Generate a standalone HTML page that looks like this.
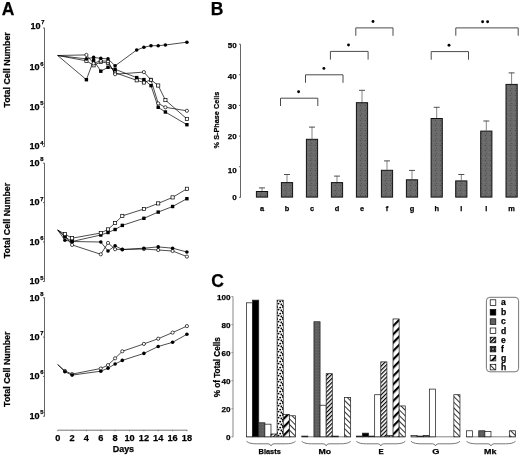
<!DOCTYPE html>
<html><head><meta charset="utf-8"><style>
html,body{margin:0;padding:0;background:#fff;}
svg{display:block;will-change:transform;}
text{font-family:"Liberation Sans", sans-serif;fill:#000;stroke:#000;stroke-width:0.25px;}
</style></head><body>
<svg width="520" height="455" viewBox="0 0 520 455">
<defs>
<pattern id="stip" width="5" height="5" patternUnits="userSpaceOnUse">
 <rect width="5" height="5" fill="#6a6a6a"/>
 <rect x="0" y="0" width="1" height="1" fill="#4e4e4e"/><rect x="3" y="2" width="1" height="1" fill="#777"/><rect x="1" y="3" width="1" height="1" fill="#555"/>
</pattern>
<pattern id="dgray" width="3" height="3" patternUnits="userSpaceOnUse">
 <rect width="3" height="3" fill="#5e5e5e"/><rect x="1" y="1" width="1" height="1" fill="#707070"/>
</pattern>
<pattern id="dots" width="6" height="6" patternUnits="userSpaceOnUse">
 <rect width="6" height="6" fill="#fff"/>
 <ellipse cx="1" cy="1" rx="1.1" ry="0.9" fill="#000"/><ellipse cx="4.2" cy="1.6" rx="1.0" ry="0.9" fill="#000"/>
 <ellipse cx="2.4" cy="3.6" rx="1.1" ry="0.9" fill="#000"/><ellipse cx="5.4" cy="4.4" rx="1.0" ry="1.0" fill="#000"/>
 <ellipse cx="0.6" cy="5.6" rx="0.8" ry="0.7" fill="#000"/>
</pattern>
<pattern id="hatchG" width="5.9" height="5.9" patternUnits="userSpaceOnUse" patternTransform="rotate(45)">
 <rect width="5.9" height="5.9" fill="#fff"/><rect x="0" y="0" width="2.2" height="5.9" fill="#000"/>
</pattern>
<pattern id="hatchE" width="2.9" height="2.9" patternUnits="userSpaceOnUse" patternTransform="rotate(45)">
 <rect width="2.9" height="2.9" fill="#fff"/><rect x="0" y="0" width="1.2" height="2.9" fill="#000"/>
</pattern>
<pattern id="hatchH" width="4" height="4" patternUnits="userSpaceOnUse" patternTransform="rotate(-45)">
 <rect width="4" height="4" fill="#fff"/><rect x="0" y="0" width="0.8" height="4" fill="#000"/>
</pattern>
<pattern id="dotsL" width="3" height="3" patternUnits="userSpaceOnUse">
 <rect width="3" height="3" fill="#222"/><circle cx="1" cy="1" r="0.7" fill="#fff"/>
</pattern>
<pattern id="hatchEL" width="2.8" height="2.8" patternUnits="userSpaceOnUse" patternTransform="rotate(45)">
 <rect width="2.8" height="2.8" fill="#fff"/><rect x="0" y="0" width="1.6" height="2.8" fill="#000"/>
</pattern>
</defs>
<text x="1.8" y="14.7" font-size="17.5" font-weight="bold">A</text><line x1="44.5" y1="27.9" x2="44.5" y2="146.8" stroke="#555" stroke-width="0.9"/><line x1="43" y1="28" x2="44.5" y2="28" stroke="#555" stroke-width="0.9"/><text x="40.7" y="29.2" text-anchor="end" font-size="9.1" font-weight="bold">10</text><text x="41.3" y="24.4" font-size="5.8" font-weight="bold">7</text><line x1="43" y1="67.5" x2="44.5" y2="67.5" stroke="#555" stroke-width="0.9"/><text x="39.6" y="70.3" text-anchor="end" font-size="9.1" font-weight="bold">10</text><text x="40.2" y="65.5" font-size="5.8" font-weight="bold">6</text><line x1="43" y1="107.2" x2="44.5" y2="107.2" stroke="#555" stroke-width="0.9"/><text x="39.6" y="110.0" text-anchor="end" font-size="9.1" font-weight="bold">10</text><text x="40.2" y="105.2" font-size="5.8" font-weight="bold">5</text><line x1="43" y1="146.6" x2="44.5" y2="146.6" stroke="#555" stroke-width="0.9"/><text x="39.6" y="149.4" text-anchor="end" font-size="9.1" font-weight="bold">10</text><text x="40.2" y="144.6" font-size="5.8" font-weight="bold">4</text><line x1="44.5" y1="163.2" x2="44.5" y2="281.6" stroke="#555" stroke-width="0.9"/><line x1="43" y1="163.2" x2="44.5" y2="163.2" stroke="#555" stroke-width="0.9"/><text x="39.6" y="166.0" text-anchor="end" font-size="9.1" font-weight="bold">10</text><text x="40.2" y="161.2" font-size="5.8" font-weight="bold">8</text><line x1="43" y1="202.6" x2="44.5" y2="202.6" stroke="#555" stroke-width="0.9"/><text x="39.6" y="205.4" text-anchor="end" font-size="9.1" font-weight="bold">10</text><text x="40.2" y="200.6" font-size="5.8" font-weight="bold">7</text><line x1="43" y1="242" x2="44.5" y2="242" stroke="#555" stroke-width="0.9"/><text x="39.6" y="244.8" text-anchor="end" font-size="9.1" font-weight="bold">10</text><text x="40.2" y="240.0" font-size="5.8" font-weight="bold">6</text><line x1="43" y1="281.5" x2="44.5" y2="281.5" stroke="#555" stroke-width="0.9"/><text x="39.6" y="284.3" text-anchor="end" font-size="9.1" font-weight="bold">10</text><text x="40.2" y="279.5" font-size="5.8" font-weight="bold">5</text><line x1="44.5" y1="297.6" x2="44.5" y2="416.6" stroke="#555" stroke-width="0.9"/><line x1="43" y1="297.8" x2="44.5" y2="297.8" stroke="#555" stroke-width="0.9"/><text x="39.6" y="300.6" text-anchor="end" font-size="9.1" font-weight="bold">10</text><text x="40.2" y="295.8" font-size="5.8" font-weight="bold">8</text><line x1="43" y1="337.1" x2="44.5" y2="337.1" stroke="#555" stroke-width="0.9"/><text x="39.6" y="339.9" text-anchor="end" font-size="9.1" font-weight="bold">10</text><text x="40.2" y="335.1" font-size="5.8" font-weight="bold">7</text><line x1="43" y1="376.4" x2="44.5" y2="376.4" stroke="#555" stroke-width="0.9"/><text x="39.6" y="379.2" text-anchor="end" font-size="9.1" font-weight="bold">10</text><text x="40.2" y="374.4" font-size="5.8" font-weight="bold">6</text><line x1="43" y1="416.2" x2="44.5" y2="416.2" stroke="#555" stroke-width="0.9"/><text x="39.6" y="419.0" text-anchor="end" font-size="9.1" font-weight="bold">10</text><text x="40.2" y="414.2" font-size="5.8" font-weight="bold">5</text><text transform="translate(9.6,69.9) rotate(-90)" text-anchor="middle" font-size="8.9" font-weight="bold" textLength="75.4" lengthAdjust="spacingAndGlyphs">Total Cell Number</text><text transform="translate(10.2,220.5) rotate(-90)" text-anchor="middle" font-size="8.9" font-weight="bold" textLength="75.4" lengthAdjust="spacingAndGlyphs">Total Cell Number</text><text transform="translate(10.2,369.2) rotate(-90)" text-anchor="middle" font-size="8.9" font-weight="bold" textLength="75.4" lengthAdjust="spacingAndGlyphs">Total Cell Number</text><line x1="57.7" y1="430.2" x2="187.3" y2="430.2" stroke="#666" stroke-width="0.9"/><line x1="57.7" y1="430.2" x2="57.7" y2="431.2" stroke="#666" stroke-width="0.8"/><text x="57.7" y="440.9" text-anchor="middle" font-size="9.2" font-weight="bold">0</text><line x1="72.1" y1="430.2" x2="72.1" y2="431.2" stroke="#666" stroke-width="0.8"/><text x="72.1" y="440.9" text-anchor="middle" font-size="9.2" font-weight="bold">2</text><line x1="86.4" y1="430.2" x2="86.4" y2="431.2" stroke="#666" stroke-width="0.8"/><text x="86.4" y="440.9" text-anchor="middle" font-size="9.2" font-weight="bold">4</text><line x1="100.8" y1="430.2" x2="100.8" y2="431.2" stroke="#666" stroke-width="0.8"/><text x="100.8" y="440.9" text-anchor="middle" font-size="9.2" font-weight="bold">6</text><line x1="115.1" y1="430.2" x2="115.1" y2="431.2" stroke="#666" stroke-width="0.8"/><text x="115.1" y="440.9" text-anchor="middle" font-size="9.2" font-weight="bold">8</text><line x1="129.5" y1="430.2" x2="129.5" y2="431.2" stroke="#666" stroke-width="0.8"/><text x="129.5" y="440.9" text-anchor="middle" font-size="9.2" font-weight="bold">10</text><line x1="143.9" y1="430.2" x2="143.9" y2="431.2" stroke="#666" stroke-width="0.8"/><text x="143.9" y="440.9" text-anchor="middle" font-size="9.2" font-weight="bold">12</text><line x1="158.2" y1="430.2" x2="158.2" y2="431.2" stroke="#666" stroke-width="0.8"/><text x="158.2" y="440.9" text-anchor="middle" font-size="9.2" font-weight="bold">14</text><line x1="172.6" y1="430.2" x2="172.6" y2="431.2" stroke="#666" stroke-width="0.8"/><text x="172.6" y="440.9" text-anchor="middle" font-size="9.2" font-weight="bold">16</text><line x1="186.9" y1="430.2" x2="186.9" y2="431.2" stroke="#666" stroke-width="0.8"/><text x="186.9" y="440.9" text-anchor="middle" font-size="9.2" font-weight="bold">18</text><text x="123.4" y="451.8" text-anchor="middle" font-size="9" font-weight="bold" textLength="21.4" lengthAdjust="spacingAndGlyphs">Days</text><polyline points="57.7,55.5 86.4,60.8 93.6,65.3 100.8,62.0 108.0,63.0 115.1,72.7 136.7,80.3 143.9,82.5 151.0,79.8 158.2,85.5 165.4,100.1 186.9,118.9" fill="none" stroke="#000" stroke-width="0.7"/><rect x="84.8" y="59.2" width="3.2" height="3.2" fill="#fff" stroke="#000" stroke-width="0.7"/><rect x="92.0" y="63.7" width="3.2" height="3.2" fill="#fff" stroke="#000" stroke-width="0.7"/><rect x="99.2" y="60.4" width="3.2" height="3.2" fill="#fff" stroke="#000" stroke-width="0.7"/><rect x="106.4" y="61.4" width="3.2" height="3.2" fill="#fff" stroke="#000" stroke-width="0.7"/><rect x="113.5" y="71.1" width="3.2" height="3.2" fill="#fff" stroke="#000" stroke-width="0.7"/><rect x="135.1" y="78.7" width="3.2" height="3.2" fill="#fff" stroke="#000" stroke-width="0.7"/><rect x="142.3" y="80.9" width="3.2" height="3.2" fill="#fff" stroke="#000" stroke-width="0.7"/><rect x="149.4" y="78.2" width="3.2" height="3.2" fill="#fff" stroke="#000" stroke-width="0.7"/><rect x="156.6" y="83.9" width="3.2" height="3.2" fill="#fff" stroke="#000" stroke-width="0.7"/><rect x="163.8" y="98.5" width="3.2" height="3.2" fill="#fff" stroke="#000" stroke-width="0.7"/><rect x="185.3" y="117.3" width="3.2" height="3.2" fill="#fff" stroke="#000" stroke-width="0.7"/><polyline points="57.7,55.5 86.4,79.7 93.6,60.3 100.8,71.2 108.0,67.3 115.1,69.3 136.7,77.6 143.9,79.6 151.0,85.6 158.2,107.3 165.4,112.0 186.9,124.7" fill="none" stroke="#000" stroke-width="0.7"/><rect x="84.7" y="78.0" width="3.4" height="3.4" fill="#000"/><rect x="91.9" y="58.6" width="3.4" height="3.4" fill="#000"/><rect x="99.1" y="69.5" width="3.4" height="3.4" fill="#000"/><rect x="106.3" y="65.6" width="3.4" height="3.4" fill="#000"/><rect x="113.4" y="67.6" width="3.4" height="3.4" fill="#000"/><rect x="135.0" y="75.9" width="3.4" height="3.4" fill="#000"/><rect x="142.2" y="77.9" width="3.4" height="3.4" fill="#000"/><rect x="149.3" y="83.9" width="3.4" height="3.4" fill="#000"/><rect x="156.5" y="105.6" width="3.4" height="3.4" fill="#000"/><rect x="163.7" y="110.3" width="3.4" height="3.4" fill="#000"/><rect x="185.2" y="123.0" width="3.4" height="3.4" fill="#000"/><polyline points="57.7,55.5 86.4,54.9 93.6,63.3 100.8,60.8 108.0,61.3 115.1,74.2 143.9,72.1 151.0,80.0 158.2,103.4 165.4,107.3 186.9,110.8" fill="none" stroke="#000" stroke-width="0.7"/><circle cx="86.4" cy="54.9" r="1.6" fill="#fff" stroke="#000" stroke-width="0.7"/><circle cx="93.6" cy="63.3" r="1.6" fill="#fff" stroke="#000" stroke-width="0.7"/><circle cx="100.8" cy="60.8" r="1.6" fill="#fff" stroke="#000" stroke-width="0.7"/><circle cx="108.0" cy="61.3" r="1.6" fill="#fff" stroke="#000" stroke-width="0.7"/><circle cx="115.1" cy="74.2" r="1.6" fill="#fff" stroke="#000" stroke-width="0.7"/><circle cx="143.9" cy="72.1" r="1.6" fill="#fff" stroke="#000" stroke-width="0.7"/><circle cx="151.0" cy="80.0" r="1.6" fill="#fff" stroke="#000" stroke-width="0.7"/><circle cx="158.2" cy="103.4" r="1.6" fill="#fff" stroke="#000" stroke-width="0.7"/><circle cx="165.4" cy="107.3" r="1.6" fill="#fff" stroke="#000" stroke-width="0.7"/><circle cx="186.9" cy="110.8" r="1.6" fill="#fff" stroke="#000" stroke-width="0.7"/><polyline points="57.7,55.5 86.4,58.9 93.6,57.4 100.8,58.4 108.0,58.9 115.1,65.8 136.7,50.0 143.9,47.3 151.0,45.7 158.2,45.7 165.4,45.0 186.9,42.2" fill="none" stroke="#000" stroke-width="0.7"/><circle cx="86.4" cy="58.9" r="1.8" fill="#000"/><circle cx="93.6" cy="57.4" r="1.8" fill="#000"/><circle cx="100.8" cy="58.4" r="1.8" fill="#000"/><circle cx="108.0" cy="58.9" r="1.8" fill="#000"/><circle cx="115.1" cy="65.8" r="1.8" fill="#000"/><circle cx="136.7" cy="50.0" r="1.8" fill="#000"/><circle cx="143.9" cy="47.3" r="1.8" fill="#000"/><circle cx="151.0" cy="45.7" r="1.8" fill="#000"/><circle cx="158.2" cy="45.7" r="1.8" fill="#000"/><circle cx="165.4" cy="45.0" r="1.8" fill="#000"/><circle cx="186.9" cy="42.2" r="1.8" fill="#000"/><polyline points="57.7,230.0 64.9,236.0 72.1,244.9 100.8,254.3 108.0,242.9 115.1,249.2 122.3,249.5 143.9,249.0 158.2,250.0 172.6,251.0 186.9,256.6" fill="none" stroke="#000" stroke-width="0.7"/><circle cx="64.9" cy="236.0" r="1.6" fill="#fff" stroke="#000" stroke-width="0.7"/><circle cx="72.1" cy="244.9" r="1.6" fill="#fff" stroke="#000" stroke-width="0.7"/><circle cx="100.8" cy="254.3" r="1.6" fill="#fff" stroke="#000" stroke-width="0.7"/><circle cx="108.0" cy="242.9" r="1.6" fill="#fff" stroke="#000" stroke-width="0.7"/><circle cx="115.1" cy="249.2" r="1.6" fill="#fff" stroke="#000" stroke-width="0.7"/><circle cx="122.3" cy="249.5" r="1.6" fill="#fff" stroke="#000" stroke-width="0.7"/><circle cx="143.9" cy="249.0" r="1.6" fill="#fff" stroke="#000" stroke-width="0.7"/><circle cx="158.2" cy="250.0" r="1.6" fill="#fff" stroke="#000" stroke-width="0.7"/><circle cx="172.6" cy="251.0" r="1.6" fill="#fff" stroke="#000" stroke-width="0.7"/><circle cx="186.9" cy="256.6" r="1.6" fill="#fff" stroke="#000" stroke-width="0.7"/><polyline points="57.7,230.0 64.9,240.2 72.1,241.5 100.8,242.0 108.0,251.0 115.1,245.8 122.3,249.5 143.9,248.2 158.2,246.9 172.6,248.2 186.9,252.0" fill="none" stroke="#000" stroke-width="0.7"/><circle cx="64.9" cy="240.2" r="1.8" fill="#000"/><circle cx="72.1" cy="241.5" r="1.8" fill="#000"/><circle cx="100.8" cy="242.0" r="1.8" fill="#000"/><circle cx="108.0" cy="251.0" r="1.8" fill="#000"/><circle cx="115.1" cy="245.8" r="1.8" fill="#000"/><circle cx="122.3" cy="249.5" r="1.8" fill="#000"/><circle cx="143.9" cy="248.2" r="1.8" fill="#000"/><circle cx="158.2" cy="246.9" r="1.8" fill="#000"/><circle cx="172.6" cy="248.2" r="1.8" fill="#000"/><circle cx="186.9" cy="252.0" r="1.8" fill="#000"/><polyline points="57.7,230.0 64.9,236.8 72.1,241.5 100.8,235.0 108.0,232.5 115.1,229.5 122.3,225.4 143.9,218.3 158.2,212.1 172.6,206.5 186.9,198.7" fill="none" stroke="#000" stroke-width="0.7"/><rect x="63.2" y="235.1" width="3.4" height="3.4" fill="#000"/><rect x="70.4" y="239.8" width="3.4" height="3.4" fill="#000"/><rect x="99.1" y="233.3" width="3.4" height="3.4" fill="#000"/><rect x="106.3" y="230.8" width="3.4" height="3.4" fill="#000"/><rect x="113.4" y="227.8" width="3.4" height="3.4" fill="#000"/><rect x="120.6" y="223.7" width="3.4" height="3.4" fill="#000"/><rect x="142.2" y="216.6" width="3.4" height="3.4" fill="#000"/><rect x="156.5" y="210.4" width="3.4" height="3.4" fill="#000"/><rect x="170.9" y="204.8" width="3.4" height="3.4" fill="#000"/><rect x="185.2" y="197.0" width="3.4" height="3.4" fill="#000"/><polyline points="57.7,230.0 64.9,234.1 72.1,238.2 100.8,233.0 108.0,229.4 115.1,223.0 122.3,215.9 143.9,209.0 158.2,203.4 172.6,197.4 186.9,188.8" fill="none" stroke="#000" stroke-width="0.7"/><rect x="63.3" y="232.5" width="3.2" height="3.2" fill="#fff" stroke="#000" stroke-width="0.7"/><rect x="70.5" y="236.6" width="3.2" height="3.2" fill="#fff" stroke="#000" stroke-width="0.7"/><rect x="99.2" y="231.4" width="3.2" height="3.2" fill="#fff" stroke="#000" stroke-width="0.7"/><rect x="106.4" y="227.8" width="3.2" height="3.2" fill="#fff" stroke="#000" stroke-width="0.7"/><rect x="113.5" y="221.4" width="3.2" height="3.2" fill="#fff" stroke="#000" stroke-width="0.7"/><rect x="120.7" y="214.3" width="3.2" height="3.2" fill="#fff" stroke="#000" stroke-width="0.7"/><rect x="142.3" y="207.4" width="3.2" height="3.2" fill="#fff" stroke="#000" stroke-width="0.7"/><rect x="156.6" y="201.8" width="3.2" height="3.2" fill="#fff" stroke="#000" stroke-width="0.7"/><rect x="171.0" y="195.8" width="3.2" height="3.2" fill="#fff" stroke="#000" stroke-width="0.7"/><rect x="185.3" y="187.2" width="3.2" height="3.2" fill="#fff" stroke="#000" stroke-width="0.7"/><polyline points="57.7,364.5 64.9,370.9 72.1,374.1 100.8,368.5 108.0,365.1 115.1,358.3 122.3,351.3 143.9,343.9 158.2,338.7 172.6,332.6 186.9,326.1" fill="none" stroke="#000" stroke-width="0.7"/><circle cx="64.9" cy="370.9" r="1.6" fill="#fff" stroke="#000" stroke-width="0.7"/><circle cx="72.1" cy="374.1" r="1.6" fill="#fff" stroke="#000" stroke-width="0.7"/><circle cx="100.8" cy="368.5" r="1.6" fill="#fff" stroke="#000" stroke-width="0.7"/><circle cx="108.0" cy="365.1" r="1.6" fill="#fff" stroke="#000" stroke-width="0.7"/><circle cx="115.1" cy="358.3" r="1.6" fill="#fff" stroke="#000" stroke-width="0.7"/><circle cx="122.3" cy="351.3" r="1.6" fill="#fff" stroke="#000" stroke-width="0.7"/><circle cx="143.9" cy="343.9" r="1.6" fill="#fff" stroke="#000" stroke-width="0.7"/><circle cx="158.2" cy="338.7" r="1.6" fill="#fff" stroke="#000" stroke-width="0.7"/><circle cx="172.6" cy="332.6" r="1.6" fill="#fff" stroke="#000" stroke-width="0.7"/><circle cx="186.9" cy="326.1" r="1.6" fill="#fff" stroke="#000" stroke-width="0.7"/><polyline points="57.7,364.5 64.9,371.8 72.1,375.1 100.8,371.2 108.0,368.2 115.1,364.0 122.3,360.4 143.9,353.4 158.2,346.5 172.6,342.3 186.9,334.3" fill="none" stroke="#000" stroke-width="0.7"/><circle cx="64.9" cy="371.8" r="1.8" fill="#000"/><circle cx="72.1" cy="375.1" r="1.8" fill="#000"/><circle cx="100.8" cy="371.2" r="1.8" fill="#000"/><circle cx="108.0" cy="368.2" r="1.8" fill="#000"/><circle cx="115.1" cy="364.0" r="1.8" fill="#000"/><circle cx="122.3" cy="360.4" r="1.8" fill="#000"/><circle cx="143.9" cy="353.4" r="1.8" fill="#000"/><circle cx="158.2" cy="346.5" r="1.8" fill="#000"/><circle cx="172.6" cy="342.3" r="1.8" fill="#000"/><circle cx="186.9" cy="334.3" r="1.8" fill="#000"/>
<text x="210.7" y="14.7" font-size="17.5" font-weight="bold">B</text><line x1="240.5" y1="44.2" x2="240.5" y2="197.6" stroke="#555" stroke-width="0.9"/><line x1="239" y1="197.3" x2="240.5" y2="197.3" stroke="#555" stroke-width="0.9"/><text x="236.7" y="200.2" text-anchor="end" font-size="8" font-weight="bold">0</text><line x1="239" y1="166.7" x2="240.5" y2="166.7" stroke="#555" stroke-width="0.9"/><text x="236.7" y="172.5" text-anchor="end" font-size="8" font-weight="bold">10</text><line x1="239" y1="136.1" x2="240.5" y2="136.1" stroke="#555" stroke-width="0.9"/><text x="236.7" y="139.3" text-anchor="end" font-size="8" font-weight="bold">20</text><line x1="239" y1="105.4" x2="240.5" y2="105.4" stroke="#555" stroke-width="0.9"/><text x="236.7" y="109.3" text-anchor="end" font-size="8" font-weight="bold">30</text><line x1="239" y1="74.8" x2="240.5" y2="74.8" stroke="#555" stroke-width="0.9"/><text x="236.7" y="78.5" text-anchor="end" font-size="8" font-weight="bold">40</text><line x1="239" y1="44.2" x2="240.5" y2="44.2" stroke="#555" stroke-width="0.9"/><text x="236.7" y="47.5" text-anchor="end" font-size="8" font-weight="bold">50</text><text transform="translate(219.3,120) rotate(-90)" text-anchor="middle" font-size="8.1" font-weight="bold" textLength="56.8" lengthAdjust="spacingAndGlyphs">% S-Phase Cells</text><line x1="262" y1="187.6" x2="262" y2="191" stroke="#858585" stroke-width="1"/><line x1="259" y1="187.9" x2="265" y2="187.9" stroke="#505050" stroke-width="1"/><rect x="256.4" y="191.5" width="11.2" height="5.6" fill="url(#stip)" stroke="#111" stroke-width="1"/><text x="262" y="210.6" text-anchor="middle" font-size="7.4" font-weight="bold">a</text><line x1="287" y1="174.2" x2="287" y2="182.1" stroke="#858585" stroke-width="1"/><line x1="284" y1="174.5" x2="290" y2="174.5" stroke="#505050" stroke-width="1"/><rect x="281.4" y="182.6" width="11.2" height="14.5" fill="url(#stip)" stroke="#111" stroke-width="1"/><text x="287" y="210.6" text-anchor="middle" font-size="7.4" font-weight="bold">b</text><line x1="312" y1="126.8" x2="312" y2="138.8" stroke="#858585" stroke-width="1"/><line x1="309" y1="127.1" x2="315" y2="127.1" stroke="#505050" stroke-width="1"/><rect x="306.4" y="139.3" width="11.2" height="57.8" fill="url(#stip)" stroke="#111" stroke-width="1"/><text x="312" y="210.6" text-anchor="middle" font-size="7.4" font-weight="bold">c</text><line x1="337" y1="175.8" x2="337" y2="182.1" stroke="#858585" stroke-width="1"/><line x1="334" y1="176.10000000000002" x2="340" y2="176.10000000000002" stroke="#505050" stroke-width="1"/><rect x="331.4" y="182.6" width="11.2" height="14.5" fill="url(#stip)" stroke="#111" stroke-width="1"/><text x="337" y="210.6" text-anchor="middle" font-size="7.4" font-weight="bold">d</text><line x1="362" y1="90" x2="362" y2="102.2" stroke="#858585" stroke-width="1"/><line x1="359" y1="90.3" x2="365" y2="90.3" stroke="#505050" stroke-width="1"/><rect x="356.4" y="102.7" width="11.2" height="94.4" fill="url(#stip)" stroke="#111" stroke-width="1"/><text x="362" y="210.6" text-anchor="middle" font-size="7.4" font-weight="bold">e</text><line x1="387" y1="160.6" x2="387" y2="169.8" stroke="#858585" stroke-width="1"/><line x1="384" y1="160.9" x2="390" y2="160.9" stroke="#505050" stroke-width="1"/><rect x="381.4" y="170.3" width="11.2" height="26.8" fill="url(#stip)" stroke="#111" stroke-width="1"/><text x="387" y="210.6" text-anchor="middle" font-size="7.4" font-weight="bold">f</text><line x1="412" y1="170.1" x2="412" y2="179.3" stroke="#858585" stroke-width="1"/><line x1="409" y1="170.4" x2="415" y2="170.4" stroke="#505050" stroke-width="1"/><rect x="406.4" y="179.8" width="11.2" height="17.3" fill="url(#stip)" stroke="#111" stroke-width="1"/><text x="412" y="210.6" text-anchor="middle" font-size="7.4" font-weight="bold">g</text><line x1="436.7" y1="107" x2="436.7" y2="118" stroke="#858585" stroke-width="1"/><line x1="433.7" y1="107.3" x2="439.7" y2="107.3" stroke="#505050" stroke-width="1"/><rect x="431.1" y="118.5" width="11.2" height="78.6" fill="url(#stip)" stroke="#111" stroke-width="1"/><text x="436.7" y="210.6" text-anchor="middle" font-size="7.4" font-weight="bold">h</text><line x1="461.3" y1="174.2" x2="461.3" y2="180.4" stroke="#858585" stroke-width="1"/><line x1="458.3" y1="174.5" x2="464.3" y2="174.5" stroke="#505050" stroke-width="1"/><rect x="455.7" y="180.9" width="11.2" height="16.2" fill="url(#stip)" stroke="#111" stroke-width="1"/><text x="461.3" y="210.6" text-anchor="middle" font-size="7.4" font-weight="bold">i</text><line x1="486.3" y1="120.7" x2="486.3" y2="130.6" stroke="#858585" stroke-width="1"/><line x1="483.3" y1="121.0" x2="489.3" y2="121.0" stroke="#505050" stroke-width="1"/><rect x="480.7" y="131.1" width="11.2" height="66.0" fill="url(#stip)" stroke="#111" stroke-width="1"/><text x="486.3" y="210.6" text-anchor="middle" font-size="7.4" font-weight="bold">l</text><line x1="511.6" y1="72.6" x2="511.6" y2="83.9" stroke="#858585" stroke-width="1"/><line x1="508.6" y1="72.89999999999999" x2="514.6" y2="72.89999999999999" stroke="#505050" stroke-width="1"/><rect x="506.0" y="84.4" width="11.2" height="112.7" fill="url(#stip)" stroke="#111" stroke-width="1"/><text x="511.6" y="210.6" text-anchor="middle" font-size="7.4" font-weight="bold">m</text><polyline points="280.5,106 280.5,98.2 317.8,98.2 317.8,106" fill="none" stroke="#4a4a4a" stroke-width="1"/><circle cx="298.6" cy="91.8" r="1.45" fill="#000"/><polyline points="305.5,82.8 305.5,74.8 343,74.8 343,82.8" fill="none" stroke="#4a4a4a" stroke-width="1"/><circle cx="323.9" cy="68.4" r="1.45" fill="#000"/><polyline points="330.4,59.6 330.4,51.4 368.1,51.4 368.1,59.6" fill="none" stroke="#4a4a4a" stroke-width="1"/><circle cx="348.5" cy="45.0" r="1.45" fill="#000"/><polyline points="355.8,35.8 355.8,27.9 393,27.9 393,35.8" fill="none" stroke="#4a4a4a" stroke-width="1"/><circle cx="373" cy="21.5" r="1.45" fill="#000"/><polyline points="431.2,59.7 431.2,51.6 468.5,51.6 468.5,59.7" fill="none" stroke="#4a4a4a" stroke-width="1"/><circle cx="449" cy="45.2" r="1.45" fill="#000"/><polyline points="455.8,35.7 455.8,27.9 518.2,27.9 518.2,35.7" fill="none" stroke="#4a4a4a" stroke-width="1"/><circle cx="482.6" cy="21.7" r="1.45" fill="#000"/><circle cx="487.6" cy="21.7" r="1.45" fill="#000"/>
<text x="211.2" y="287.4" font-size="17.5" font-weight="bold">C</text><line x1="233" y1="296.5" x2="233" y2="437.2" stroke="#888" stroke-width="1"/><line x1="231.5" y1="436.8" x2="232.8" y2="436.8" stroke="#777" stroke-width="0.9"/><text x="230.4" y="439.9" text-anchor="end" font-size="8.1" font-weight="bold">0</text><line x1="231.5" y1="408.7" x2="232.8" y2="408.7" stroke="#777" stroke-width="0.9"/><text x="230.4" y="411.8" text-anchor="end" font-size="8.1" font-weight="bold">20</text><line x1="231.5" y1="380.7" x2="232.8" y2="380.7" stroke="#777" stroke-width="0.9"/><text x="230.4" y="383.8" text-anchor="end" font-size="8.1" font-weight="bold">40</text><line x1="231.5" y1="352.6" x2="232.8" y2="352.6" stroke="#777" stroke-width="0.9"/><text x="230.4" y="355.7" text-anchor="end" font-size="8.1" font-weight="bold">60</text><line x1="231.5" y1="324.6" x2="232.8" y2="324.6" stroke="#777" stroke-width="0.9"/><text x="230.4" y="327.7" text-anchor="end" font-size="8.1" font-weight="bold">80</text><line x1="231.5" y1="296.5" x2="232.8" y2="296.5" stroke="#777" stroke-width="0.9"/><text x="230.4" y="299.6" text-anchor="end" font-size="8.1" font-weight="bold">100</text><text transform="translate(219.6,367.2) rotate(-90)" text-anchor="middle" font-size="8.2" font-weight="bold" textLength="60" lengthAdjust="spacingAndGlyphs">% of Total Cells</text><line x1="246.5" y1="436.8" x2="295.5" y2="436.8" stroke="#666" stroke-width="0.8"/><rect x="246.50" y="302.81" width="6.12" height="133.99" fill="#fff" stroke="#222" stroke-width="0.75"/><rect x="252.62" y="300.15" width="6.12" height="136.65" fill="#000" stroke="#222" stroke-width="0.75"/><rect x="258.74" y="422.77" width="6.12" height="14.03" fill="url(#dgray)" stroke="#222" stroke-width="0.75"/><rect x="264.86" y="424.17" width="6.12" height="12.63" fill="#fff" stroke="#222" stroke-width="0.75"/><rect x="270.98" y="433.99" width="6.12" height="2.81" fill="url(#hatchE)" stroke="#222" stroke-width="0.75"/><rect x="277.10" y="300.15" width="6.12" height="136.65" fill="url(#dots)" stroke="#222" stroke-width="0.75"/><rect x="283.22" y="414.35" width="6.12" height="22.45" fill="url(#hatchG)" stroke="#222" stroke-width="0.75"/><rect x="289.34" y="415.75" width="6.12" height="21.05" fill="url(#hatchH)" stroke="#222" stroke-width="0.75"/><path d="M246.5,441.3 C248.5,443.3 252.5,443.8 256.5,443.8 L268.0,443.8 Q270.4,443.8 271.0,445.9 Q271.6,443.8 274.0,443.8 L285.5,443.8 C289.5,443.8 293.5,443.3 295.5,441.3" fill="none" stroke="#555" stroke-width="0.8"/><text x="269.7" y="453.5" text-anchor="middle" font-size="7.7" font-weight="bold" textLength="22.2" lengthAdjust="spacingAndGlyphs">Blasts</text><line x1="301.7" y1="436.8" x2="350.7" y2="436.8" stroke="#666" stroke-width="0.8"/><rect x="301.70" y="436.10" width="6.12" height="0.70" fill="#fff" stroke="#222" stroke-width="0.75"/><rect x="313.94" y="321.75" width="6.12" height="115.05" fill="url(#dgray)" stroke="#222" stroke-width="0.75"/><rect x="320.06" y="405.23" width="6.12" height="31.57" fill="#fff" stroke="#222" stroke-width="0.75"/><rect x="326.18" y="373.67" width="6.12" height="63.13" fill="url(#hatchE)" stroke="#222" stroke-width="0.75"/><rect x="332.30" y="436.10" width="6.12" height="0.70" fill="url(#dots)" stroke="#222" stroke-width="0.75"/><rect x="344.54" y="397.52" width="6.12" height="39.28" fill="url(#hatchH)" stroke="#222" stroke-width="0.75"/><path d="M301.7,441.3 C303.7,443.3 307.7,443.8 311.7,443.8 L323.2,443.8 Q325.6,443.8 326.2,445.9 Q326.8,443.8 329.2,443.8 L340.7,443.8 C344.7,443.8 348.7,443.3 350.7,441.3" fill="none" stroke="#555" stroke-width="0.8"/><text x="324.8" y="453.5" text-anchor="middle" font-size="7.7" font-weight="bold" textLength="12.6" lengthAdjust="spacingAndGlyphs">Mo</text><line x1="356.3" y1="436.8" x2="405.3" y2="436.8" stroke="#666" stroke-width="0.8"/><rect x="356.30" y="436.10" width="6.12" height="0.70" fill="#fff" stroke="#222" stroke-width="0.75"/><rect x="362.42" y="433.15" width="6.12" height="3.65" fill="#000" stroke="#222" stroke-width="0.75"/><rect x="368.54" y="436.10" width="6.12" height="0.70" fill="url(#dgray)" stroke="#222" stroke-width="0.75"/><rect x="374.66" y="394.71" width="6.12" height="42.09" fill="#fff" stroke="#222" stroke-width="0.75"/><rect x="380.78" y="361.88" width="6.12" height="74.92" fill="url(#hatchE)" stroke="#222" stroke-width="0.75"/><rect x="386.90" y="435.40" width="6.12" height="1.40" fill="url(#dots)" stroke="#222" stroke-width="0.75"/><rect x="393.02" y="318.95" width="6.12" height="117.85" fill="url(#hatchG)" stroke="#222" stroke-width="0.75"/><rect x="399.14" y="405.93" width="6.12" height="30.87" fill="url(#hatchH)" stroke="#222" stroke-width="0.75"/><path d="M356.3,441.3 C358.3,443.3 362.3,443.8 366.3,443.8 L377.8,443.8 Q380.2,443.8 380.8,445.9 Q381.4,443.8 383.8,443.8 L395.3,443.8 C399.3,443.8 403.3,443.3 405.3,441.3" fill="none" stroke="#555" stroke-width="0.8"/><text x="381.0" y="453.5" text-anchor="middle" font-size="7.7" font-weight="bold">E</text><line x1="411" y1="436.8" x2="460.0" y2="436.8" stroke="#666" stroke-width="0.8"/><rect x="411.00" y="435.40" width="6.12" height="1.40" fill="#fff" stroke="#222" stroke-width="0.75"/><rect x="417.12" y="436.10" width="6.12" height="0.70" fill="#000" stroke="#222" stroke-width="0.75"/><rect x="423.24" y="435.40" width="6.12" height="1.40" fill="url(#dgray)" stroke="#222" stroke-width="0.75"/><rect x="429.36" y="389.10" width="6.12" height="47.70" fill="#fff" stroke="#222" stroke-width="0.75"/><rect x="453.84" y="394.71" width="6.12" height="42.09" fill="url(#hatchH)" stroke="#222" stroke-width="0.75"/><path d="M411.0,441.3 C413.0,443.3 417.0,443.8 421.0,443.8 L432.5,443.8 Q434.9,443.8 435.5,445.9 Q436.1,443.8 438.5,443.8 L450.0,443.8 C454.0,443.8 458.0,443.3 460.0,441.3" fill="none" stroke="#555" stroke-width="0.8"/><text x="435.75" y="453.5" text-anchor="middle" font-size="7.7" font-weight="bold" textLength="7.2" lengthAdjust="spacingAndGlyphs">G</text><line x1="466.5" y1="436.8" x2="515.5" y2="436.8" stroke="#666" stroke-width="0.8"/><rect x="466.50" y="430.77" width="6.12" height="6.03" fill="#fff" stroke="#222" stroke-width="0.75"/><rect x="478.74" y="430.77" width="6.12" height="6.03" fill="url(#dgray)" stroke="#222" stroke-width="0.75"/><rect x="484.86" y="431.47" width="6.12" height="5.33" fill="#fff" stroke="#222" stroke-width="0.75"/><rect x="509.34" y="430.77" width="6.12" height="6.03" fill="url(#hatchH)" stroke="#222" stroke-width="0.75"/><path d="M466.5,441.3 C468.5,443.3 472.5,443.8 476.5,443.8 L488.0,443.8 Q490.4,443.8 491.0,445.9 Q491.6,443.8 494.0,443.8 L505.5,443.8 C509.5,443.8 513.5,443.3 515.5,441.3" fill="none" stroke="#555" stroke-width="0.8"/><text x="490.25" y="453.5" text-anchor="middle" font-size="7.7" font-weight="bold" textLength="12.4" lengthAdjust="spacingAndGlyphs">Mk</text><rect x="486.4" y="297.3" width="32.2" height="74.5" rx="3.5" fill="#fff" stroke="#666" stroke-width="0.9"/><rect x="490.2" y="299.8" width="5.6" height="5.6" fill="#fff" stroke="#000" stroke-width="0.7"/><text x="501" y="305.4" font-size="8.6" font-weight="bold">a</text><rect x="490.2" y="309.5" width="5.6" height="5.6" fill="#000" stroke="#000" stroke-width="0.7"/><text x="501" y="315.1" font-size="8.6" font-weight="bold">b</text><rect x="490.2" y="318.8" width="5.6" height="5.6" fill="url(#dgray)" stroke="#000" stroke-width="0.7"/><text x="501" y="324.4" font-size="8.6" font-weight="bold">c</text><rect x="490.2" y="328.0" width="5.6" height="5.6" fill="#fff" stroke="#000" stroke-width="0.7"/><text x="501" y="333.6" font-size="8.6" font-weight="bold">d</text><rect x="490.2" y="337.2" width="5.6" height="5.6" fill="url(#hatchEL)" stroke="#000" stroke-width="0.7"/><text x="501" y="342.8" font-size="8.6" font-weight="bold">e</text><rect x="490.2" y="346.3" width="5.6" height="5.6" fill="url(#dotsL)" stroke="#000" stroke-width="0.7"/><text x="501" y="351.9" font-size="8.6" font-weight="bold">f</text><rect x="490.2" y="355.3" width="5.6" height="5.6" fill="url(#hatchG)" stroke="#000" stroke-width="0.7"/><text x="501" y="360.9" font-size="8.6" font-weight="bold">g</text><rect x="490.2" y="364.3" width="5.6" height="5.6" fill="url(#hatchH)" stroke="#000" stroke-width="0.7"/><text x="501" y="369.9" font-size="8.6" font-weight="bold">h</text>
</svg>
</body></html>
